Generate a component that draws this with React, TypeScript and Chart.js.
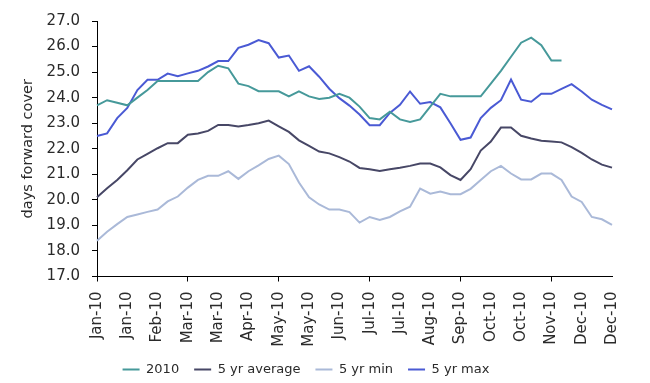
import React, { useEffect, useRef } from 'react';
import { Chart, registerables } from 'chart.js';

Chart.register(...registerables);

// Tick labels shown every 3rd weekly point
const tickLabels = [
  'Jan-10', 'Jan-10', 'Feb-10', 'Mar-10', 'Mar-10', 'Apr-10', 'May-10', 'May-10', 'Jun-10',
  'Jul-10', 'Jul-10', 'Aug-10', 'Sep-10', 'Oct-10', 'Oct-10', 'Nov-10', 'Dec-10', 'Dec-10',
];
const WEEKS_PER_TICK = 3;
const WEEK_COUNT = 52;

const series2010 = [
  23.7, 23.9, 23.8, 23.7, 24.0, 24.3, 24.65, 24.65, 24.65, 24.65, 24.65, 25.0, 25.25, 25.15,
  24.55, 24.45, 24.25, 24.25, 24.25, 24.05, 24.25, 24.05, 23.95, 24.0, 24.15, 24.0, 23.65,
  23.2, 23.15, 23.45, 23.15, 23.05, 23.15, 23.65, 24.15, 24.05, 24.05, 24.05, 24.05, 24.55,
  25.05, 25.6, 26.15, 26.35, 26.05, 25.45, 25.45,
];
const seriesAvg = [
  20.1, 20.45, 20.78, 21.16, 21.58, 21.8, 22.02, 22.22, 22.22, 22.55, 22.6, 22.7, 22.93, 22.93,
  22.87, 22.93, 23.0, 23.1, 22.88, 22.66, 22.33, 22.11, 21.89, 21.82, 21.67, 21.5, 21.25, 21.2,
  21.13, 21.2, 21.26, 21.33, 21.42, 21.42, 21.27, 20.97, 20.78, 21.2, 21.93, 22.28, 22.83, 22.83,
  22.51, 22.4, 22.31, 22.28, 22.25, 22.06, 21.84, 21.58, 21.38, 21.26,
];
const seriesMin = [
  18.4, 18.75, 19.05, 19.33, 19.43, 19.53, 19.62, 19.94, 20.13, 20.48, 20.78, 20.94, 20.94, 21.12,
  20.82, 21.12, 21.35, 21.6, 21.73, 21.4, 20.68, 20.1, 19.82, 19.62, 19.62, 19.52, 19.11, 19.33,
  19.21, 19.33, 19.55, 19.73, 20.44, 20.24, 20.33, 20.22, 20.22, 20.43, 20.78, 21.12, 21.33, 21.03,
  20.8, 20.8, 21.03, 21.03, 20.78, 20.13, 19.92, 19.33, 19.24, 19.02,
];
const seriesMax = [
  22.5, 22.6, 23.2, 23.6, 24.3, 24.7, 24.7, 24.94, 24.84, 24.95, 25.05, 25.22, 25.43, 25.43,
  25.95, 26.07, 26.25, 26.13, 25.57, 25.65, 25.05, 25.23, 24.82, 24.35, 23.98, 23.69, 23.34,
  22.92, 22.92, 23.4, 23.72, 24.24, 23.76, 23.83, 23.62, 23.0, 22.35, 22.44, 23.2, 23.6, 23.9,
  24.71, 23.92, 23.84, 24.15, 24.15, 24.34, 24.53, 24.24, 23.92, 23.72, 23.54,
];

const seriesNames = ['2010', '5 yr average', '5 yr min', '5 yr max'];
const seriesColors = ['#46999a', '#474766', '#aab9d8', '#4a5ad4'];

const W = 650;
const H = 383;
const PLOT_BOTTOM = 276.5;
const PAD_BOTTOM = -3;

export default function App() {
  const ref = useRef<HTMLCanvasElement | null>(null);

  useEffect(() => {
    if (!ref.current) return;
    const labels = Array.from({ length: WEEK_COUNT }, (_, i) =>
      i % WEEKS_PER_TICK === 0 ? tickLabels[i / WEEKS_PER_TICK] : ''
    );
    const allData = [series2010, seriesAvg, seriesMin, seriesMax];
    const textColor = '#2a2a2a';
    const chart = new Chart(ref.current, {
      type: 'line',
      data: {
        labels,
        datasets: allData.map((d, k) => ({
          label: seriesNames[k],
          data: d,
          borderColor: seriesColors[k],
          backgroundColor: seriesColors[k],
          borderWidth: 2,
          pointRadius: 0,
          tension: 0,
          fill: false,
        })),
      },
      options: {
        responsive: false,
        animation: false,
        layout: { padding: { left: 0, right: 38, top: 16.5, bottom: PAD_BOTTOM } },
        plugins: {
          tooltip: { enabled: false },
          legend: {
            position: 'bottom',
            labels: {
              boxWidth: 17,
              boxHeight: 0,
              padding: 15,
              color: textColor,
              font: { family: 'DejaVu Sans', size: 13 },
            },
          },
        },
        scales: {
          x: {
            type: 'category',
            offset: false,
            border: { display: true, color: '#000', width: 1 },
            grid: {
              drawOnChartArea: false,
              drawTicks: true,
              tickLength: 5,
              tickColor: (c: any) => (c.index % WEEKS_PER_TICK === 0 ? '#000' : 'rgba(0,0,0,0)'),
            },
            ticks: {
              autoSkip: false,
              minRotation: 90,
              maxRotation: 90,
              padding: 10,
              color: textColor,
              font: { family: 'DejaVu Sans', size: 15 },
              callback: function (this: any, _v: any, i: number) {
                return labels[i] === '' ? null : labels[i];
              },
            },
            afterFit: (scale: any) => {
              const lh = scale.chart.legend ? scale.chart.legend.height : 0;
              scale.height = H - PLOT_BOTTOM - lh - PAD_BOTTOM;
            },
          },
          y: {
            min: 17,
            max: 27,
            border: { display: true, color: '#000', width: 1 },
            grid: { drawOnChartArea: false, drawTicks: true, tickLength: 5, tickColor: '#000' },
            ticks: {
              stepSize: 1,
              padding: 12,
              color: textColor,
              font: { family: 'DejaVu Sans', size: 15 },
              callback: (v: any) => Number(v).toFixed(1),
            },
            title: {
              display: true,
              text: 'days forward cover',
              color: textColor,
              font: { family: 'DejaVu Sans', size: 14.5 },
              padding: { top: 20, bottom: 0 },
            },
            afterFit: (scale: any) => {
              scale.width = 97;
            },
          },
        },
      },
    });
    return () => chart.destroy();
  }, []);

  return (
    <div style={{ position: 'fixed', left: 0, top: 0, width: W, height: H, background: '#fff' }}>
      <canvas ref={ref} width={W} height={H} style={{ width: W, height: H, display: 'block' }} />
    </div>
  );
}
